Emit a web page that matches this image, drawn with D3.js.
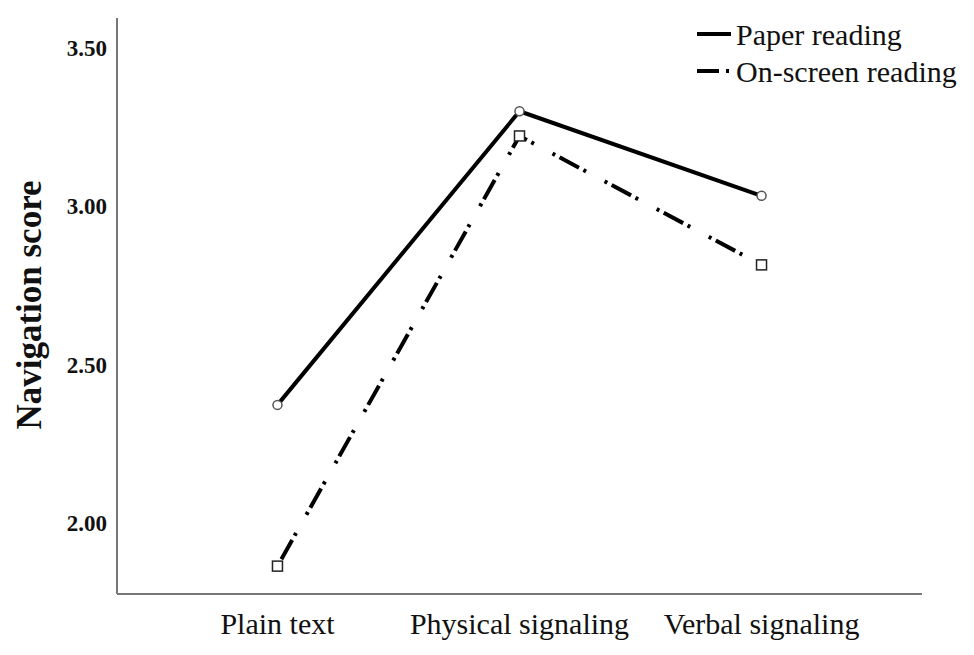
<!DOCTYPE html>
<html>
<head>
<meta charset="utf-8">
<script src="https://cdn.jsdelivr.net/npm/d3@7"></script>
<style>
  body { margin: 0; background: #fff; }
  svg text { font-family: "Liberation Serif", "Times New Roman", serif; fill: #111; }
</style>
</head>
<body>
<svg id="chart" width="974" height="655"></svg>
<script>
// data
const conditions = ["Plain text", "Physical signaling", "Verbal signaling"];
const paperScores = [2.373, 3.300, 3.033];
const screenScores = [1.864, 3.222, 2.815];
const yTicks = [2.00, 2.50, 3.00, 3.50];
const seriesNames = ["Paper reading", "On-screen reading"];

const svg = d3.select("#chart");
const plotLeft = 117, plotRight = 922, plotTop = 14, plotBottom = 594;

const x = d3.scalePoint()
    .domain(conditions)
    .range([plotLeft, plotRight])
    .padding(0.663);

const y = d3.scaleLinear()
    .domain([1.776, 3.607])
    .range([plotBottom, plotTop]);

// axes (plain lines, no tick marks)
svg.append("line")
    .attr("x1", plotLeft).attr("x2", plotLeft)
    .attr("y1", plotTop + 4).attr("y2", plotBottom)
    .attr("stroke", "#777").attr("stroke-width", 2);
svg.append("line")
    .attr("x1", plotLeft).attr("x2", plotRight)
    .attr("y1", plotBottom).attr("y2", plotBottom)
    .attr("stroke", "#777").attr("stroke-width", 2);

svg.append("g")
    .selectAll("text")
    .data(yTicks)
    .enter().append("text")
    .attr("x", 107)
    .attr("y", d => y(d))
    .attr("dy", "0.35em")
    .style("text-anchor", "end")
    .style("font-size", "23px")
    .style("font-weight", "bold")
    .text(d => d.toFixed(2));

svg.append("g")
    .selectAll("text")
    .data(conditions)
    .enter().append("text")
    .attr("x", d => x(d))
    .attr("y", 634)
    .style("text-anchor", "middle")
    .style("font-size", "30px")
    .text(d => d);

svg.append("text")
    .attr("transform", "translate(41," + 305 + ") rotate(-90)")
    .style("text-anchor", "middle")
    .style("font-size", "35px")
    .style("font-weight", "bold")
    .text("Navigation score");

const line = d3.line()
    .x((d, i) => x(conditions[i]))
    .y(d => y(d));

const dashDot = "3,5,22,5,3,21";

svg.append("path")
    .datum(paperScores)
    .attr("d", line)
    .attr("fill", "none")
    .attr("stroke", "#000")
    .attr("stroke-width", 4)
    .attr("stroke-linejoin", "round");

svg.append("path")
    .datum(screenScores)
    .attr("d", line)
    .attr("fill", "none")
    .attr("stroke", "#000")
    .attr("stroke-width", 4)
    .attr("stroke-dasharray", dashDot);

svg.append("g")
    .selectAll("circle")
    .data(paperScores)
    .enter().append("circle")
    .attr("cx", (d, i) => x(conditions[i]))
    .attr("cy", d => y(d))
    .attr("r", 4.5)
    .attr("fill", "#fff")
    .attr("stroke", "#555")
    .attr("stroke-width", 1.5);

svg.append("g")
    .selectAll("rect")
    .data(screenScores)
    .enter().append("rect")
    .attr("x", (d, i) => x(conditions[i]) - 5)
    .attr("y", d => y(d) - 5)
    .attr("width", 10)
    .attr("height", 10)
    .attr("fill", "#fff")
    .attr("stroke", "#222")
    .attr("stroke-width", 1.5);

// legend
const legend = svg.append("g")
    .selectAll("g")
    .data(seriesNames)
    .enter().append("g")
    .attr("transform", (d, i) => `translate(697,${34 + i * 37})`);

legend.append("line")
    .attr("x1", 0).attr("x2", 34)
    .attr("stroke", "#000")
    .attr("stroke-width", 4)
    .attr("stroke-dasharray", (d, i) => i === 0 ? null : "22,7,3,10");

legend.append("text")
    .attr("x", 39)
    .attr("dy", "0.35em")
    .style("font-size", "30px")
    .text(d => d);
</script>
</body>
</html>
